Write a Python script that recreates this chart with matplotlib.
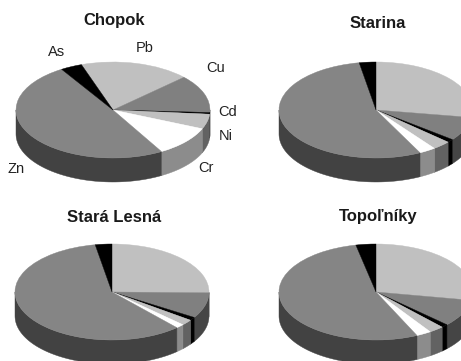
import numpy as np
import matplotlib
matplotlib.use("Agg")
import matplotlib.pyplot as plt
from matplotlib.patches import Polygon

plt.rcParams['font.family'] = ['Liberation Sans', 'DejaVu Sans']

W, H = 461, 361

elements = ["Pb", "Cu", "Cd", "Ni", "Cr", "Zn", "As"]
top_colors = ["#c0c0c0", "#808080", "#000000", "#c0c0c0", "#ffffff", "#858585", "#000000"]
side_colors = ["#606060", "#454545", "#000000", "#626262", "#8c8c8c", "#424242", "#000000"]

# Slice shares of each site, in degrees of the full circle
chopok = [66, 46, 2, 18, 37, 178, 13]
starina = [99, 29, 4, 11, 10, 197, 10]
stara_lesna = [91, 31, 4, 7, 5, 212, 10]
topolniky = [100, 33, 4, 9, 9, 193, 12]

# Clockwise angle from twelve o'clock at which the first slice starts
first_slice_angle = [-19, 0, 0, 0]

site_names = ["Chopok", "Starina", "Stará Lesná", "Topoľníky"]
site_values = [chopok, starina, stara_lesna, topolniky]

centers = [(113, 110), (376, 110), (112, 292), (376, 292)]
title_centers = [(114, 21), (378, 24), (114, 217), (378, 217)]
RX, RY, DEPTH = 97, 48, 24

label_centers = {"As": (57, 52), "Pb": (145, 48), "Cu": (216, 68), "Cd": (228, 112),
                 "Ni": (226, 136), "Cr": (206, 168), "Zn": (16, 169)}

fig = plt.figure(figsize=(W / 100, H / 100), dpi=100, facecolor="white")


def draw_pie(values, start, center):
    cx, cy = center
    ax = fig.add_axes([(cx - RX) / W, 1 - (cy + RY) / H, 2 * RX / W, 2 * RY / H])
    ax.pie(values, colors=top_colors, startangle=90 - start, counterclock=False,
           radius=1, center=(0, 0), frame=False,
           wedgeprops=dict(linewidth=0.3, zorder=3))
    for w, c in zip(ax.patches, top_colors):
        w.set_edgecolor(c)
        w.set_clip_on(False)
    ax.set_aspect("auto")
    ax.set_xlim(-1, 1)
    ax.set_ylim(-1, 1)
    ax.axis("off")

    # Rim of the disc: only the part of each slice facing the viewer
    drop = DEPTH / RY
    edges = np.cumsum([0] + list(values)) + start
    for a0, a1, col in zip(edges[:-1], edges[1:], side_colors):
        for shift in (0, 360):
            lo = max(a0 + shift, 90)
            hi = min(a1 + shift, 270)
            if hi <= lo:
                continue
            t = np.radians(90 - np.linspace(lo, hi, 60))
            x, y = np.cos(t), np.sin(t)
            pts = np.vstack([np.column_stack([x, y]),
                             np.column_stack([x[::-1], y[::-1] - drop])])
            ax.add_patch(Polygon(pts, closed=True, facecolor=col, edgecolor=col,
                                 linewidth=0.3, zorder=2, clip_on=False))


for name, vals, a0, c, tc in zip(site_names, site_values, first_slice_angle, centers, title_centers):
    draw_pie(vals, a0, c)
    fig.text(tc[0] / W, 1 - tc[1] / H, name, ha="center", va="center",
             fontsize=12, fontweight="bold", color="#1a1a1a")

for el in elements:
    x, y = label_centers[el]
    fig.text(x / W, 1 - y / H, el, ha="center", va="center", fontsize=10.5, color="#222222")

fig.savefig("out.png", dpi=100)
